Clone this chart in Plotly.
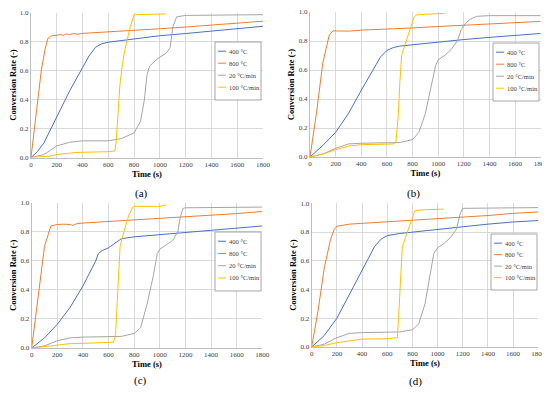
import plotly.graph_objects as go

# ---------------- data ----------------
series_names = ["400 °C", "800 °C", "20 °C/min", "100 °C/min"]
colors = ["#4472C4", "#ED7D31", "#A5A5A5", "#FFC000"]

# panel (a)
a_400_t = [0, 50, 100, 200, 300, 400, 450, 500, 550, 600, 800, 1000, 1200, 1400, 1600, 1800]
a_400_y = [0, 0.04, 0.1, 0.28, 0.46, 0.62, 0.7, 0.76, 0.785, 0.795, 0.82, 0.84, 0.855, 0.87, 0.885, 0.905]
a_800_t = [0, 40, 80, 110, 130, 160, 200, 230, 250, 270, 300, 330, 360, 400, 600, 800, 1000, 1200, 1400, 1600, 1800]
a_800_y = [0, 0.3, 0.6, 0.75, 0.82, 0.84, 0.842, 0.85, 0.84, 0.852, 0.848, 0.855, 0.85, 0.856, 0.865, 0.875, 0.888, 0.9, 0.915, 0.928, 0.94]
a_20_t = [0, 100, 200, 300, 400, 600, 700, 800, 850, 880, 900, 920, 980, 1050, 1080, 1100, 1130, 1200, 1800]
a_20_y = [0, 0.02, 0.08, 0.105, 0.115, 0.115, 0.13, 0.17, 0.25, 0.4, 0.57, 0.63, 0.68, 0.72, 0.76, 0.9, 0.97, 0.98, 0.985]
a_100_t = [0, 150, 200, 350, 600, 650, 660, 675, 690, 710, 730, 770, 800, 1050]
a_100_y = [0, 0.01, 0.02, 0.035, 0.04, 0.045, 0.1, 0.3, 0.5, 0.65, 0.75, 0.9, 0.985, 0.99]

# panel (b)
b_400_t = [0, 100, 200, 300, 400, 500, 550, 600, 650, 700, 800, 1000, 1200, 1400, 1600, 1800]
b_400_y = [0, 0.08, 0.17, 0.3, 0.46, 0.62, 0.69, 0.735, 0.755, 0.765, 0.775, 0.79, 0.81, 0.825, 0.84, 0.852]
b_800_t = [0, 50, 100, 150, 180, 200, 300, 400, 600, 800, 1000, 1200, 1400, 1600, 1800]
b_800_y = [0, 0.3, 0.65, 0.84, 0.87, 0.87, 0.868, 0.875, 0.88, 0.89, 0.9, 0.91, 0.915, 0.925, 0.935]
b_20_t = [0, 100, 200, 300, 400, 600, 700, 800, 850, 900, 950, 980, 1000, 1050, 1100, 1150, 1180, 1210, 1250, 1300, 1400, 1800]
b_20_y = [0, 0.02, 0.06, 0.09, 0.095, 0.097, 0.1, 0.12, 0.17, 0.3, 0.5, 0.63, 0.67, 0.7, 0.74, 0.8, 0.88, 0.92, 0.95, 0.97, 0.975, 0.975]
b_100_t = [0, 100, 200, 300, 400, 500, 600, 650, 670, 690, 700, 715, 740, 780, 810, 830, 900, 1050]
b_100_y = [0, 0.02, 0.05, 0.075, 0.085, 0.088, 0.09, 0.09, 0.1, 0.3, 0.5, 0.7, 0.77, 0.88, 0.96, 0.98, 0.985, 0.99]

# panel (c)
c_400_t = [0, 100, 200, 300, 400, 500, 520, 550, 600, 650, 700, 800, 1000, 1200, 1400, 1600, 1800]
c_400_y = [0, 0.07, 0.163, 0.28, 0.427, 0.6, 0.65, 0.67, 0.69, 0.72, 0.752, 0.765, 0.78, 0.795, 0.81, 0.825, 0.84]
c_800_t = [0, 50, 100, 150, 200, 250, 300, 320, 350, 400, 600, 800, 1000, 1200, 1400, 1600, 1800]
c_800_y = [0, 0.35, 0.7, 0.84, 0.85, 0.852, 0.85, 0.843, 0.855, 0.86, 0.87, 0.88, 0.89, 0.905, 0.915, 0.925, 0.94]
c_20_t = [0, 100, 200, 300, 400, 600, 700, 800, 850, 900, 950, 980, 1000, 1050, 1100, 1140, 1160, 1180, 1200, 1800]
c_20_y = [0, 0.015, 0.05, 0.07, 0.075, 0.076, 0.08, 0.1, 0.14, 0.3, 0.5, 0.65, 0.68, 0.71, 0.74, 0.8, 0.9, 0.96, 0.965, 0.97]
c_100_t = [0, 100, 200, 300, 400, 600, 640, 655, 670, 690, 720, 760, 790, 800, 1000, 1050]
c_100_y = [0, 0.01, 0.02, 0.03, 0.032, 0.035, 0.04, 0.1, 0.4, 0.7, 0.8, 0.92, 0.97, 0.975, 0.975, 0.985]

# panel (d)
d_400_t = [0, 100, 200, 300, 400, 500, 550, 600, 700, 800, 1000, 1200, 1400, 1600, 1800]
d_400_y = [0, 0.08, 0.2, 0.37, 0.54, 0.7, 0.75, 0.775, 0.79, 0.8, 0.82, 0.84, 0.855, 0.87, 0.88]
d_800_t = [0, 50, 100, 150, 180, 200, 300, 400, 600, 800, 1000, 1200, 1400, 1600, 1800]
d_800_y = [0, 0.25, 0.55, 0.75, 0.82, 0.84, 0.855, 0.86, 0.87, 0.88, 0.895, 0.905, 0.915, 0.93, 0.94]
d_20_t = [0, 100, 200, 300, 400, 600, 700, 800, 850, 900, 950, 970, 1000, 1050, 1100, 1150, 1180, 1200, 1800]
d_20_y = [0, 0.02, 0.065, 0.095, 0.1, 0.1, 0.105, 0.12, 0.16, 0.3, 0.55, 0.65, 0.69, 0.72, 0.76, 0.82, 0.93, 0.965, 0.97]
d_100_t = [0, 100, 200, 300, 400, 600, 650, 680, 690, 710, 720, 760, 800, 820, 900, 1050]
d_100_y = [0, 0.01, 0.03, 0.045, 0.055, 0.057, 0.06, 0.065, 0.2, 0.6, 0.7, 0.8, 0.9, 0.95, 0.955, 0.96]

panel_labels = ["(a)", "(b)", "(c)", "(d)"]
x_ticks = list(range(0, 1801, 200))
y_ticks = [0.0, 0.2, 0.4, 0.6, 0.8, 1.0]
x_title = "Time (s)"
y_title = "Conversion Rate (-)"

panels = [
    [(a_400_t, a_400_y), (a_800_t, a_800_y), (a_20_t, a_20_y), (a_100_t, a_100_y)],
    [(b_400_t, b_400_y), (b_800_t, b_800_y), (b_20_t, b_20_y), (b_100_t, b_100_y)],
    [(c_400_t, c_400_y), (c_800_t, c_800_y), (c_20_t, c_20_y), (c_100_t, c_100_y)],
    [(d_400_t, d_400_y), (d_800_t, d_800_y), (d_20_t, d_20_y), (d_100_t, d_100_y)],
]

# ---------------- layout geometry ----------------
# The page body has an 8 px margin, so the figure is drawn 8 px smaller and
# every target page position (in px) is shifted by that offset.
PAGE_W, PAGE_H, OFF = 550, 393, 8
W, H = PAGE_W - OFF, PAGE_H - OFF


def fx(px):
    return (px - OFF) / W


def fy(py):
    return 1 - (py - OFF) / H


boxes = [(31, 263, 12.5, 157.5), (310, 540.7, 12.0, 157), (31.7, 262.3, 202.7, 348), (311.7, 538.3, 203.3, 347)]
label_pos = [(141, 194), (413, 193), (140, 380), (415, 381)]
legend_boxes = [(215, 42, 261, 100), (493, 43, 539, 101), (215, 232, 261, 291), (491, 234, 537, 290)]

SERIF = "Liberation Serif"
fig = go.Figure()
shapes = []
annotations = []
layout = dict(
    width=W, height=H, margin=dict(l=0, r=0, t=0, b=0, autoexpand=False),
    paper_bgcolor="white", plot_bgcolor="white",
    font=dict(family=SERIF, size=7, color="#404040"),
    showlegend=False,
)

for i, series in enumerate(panels):
    n = "" if i == 0 else str(i + 1)
    for k, (t, y) in enumerate(series):
        fig.add_trace(go.Scatter(
            x=t, y=y, mode="lines", name=series_names[k],
            line=dict(color=colors[k], width=1),
            xaxis="x" + n, yaxis="y" + n,
        ))
    l, r, tp, bt = boxes[i]
    layout["xaxis" + n] = dict(
        domain=[fx(l), fx(r)], anchor="y" + n, range=[0, 1800],
        tickvals=x_ticks, ticktext=[str(v) for v in x_ticks],
        showgrid=True, gridcolor="#D9D9D9", gridwidth=1,
        showline=True, linecolor="#BFBFBF", linewidth=1,
        zeroline=False, ticks="", tickfont=dict(size=7, family=SERIF, color="#404040"),
        title=dict(text="<b>" + x_title + "</b>", font=dict(size=8.5, family=SERIF, color="#000000"), standoff=1),
    )
    layout["yaxis" + n] = dict(
        domain=[fy(bt), fy(tp)], anchor="x" + n, range=[0, 1.0],
        tickmode="array", tickvals=y_ticks, ticktext=["%.1f" % v for v in y_ticks],
        showgrid=True, gridcolor="#D9D9D9", gridwidth=1,
        showline=True, linecolor="#BFBFBF", linewidth=1,
        zeroline=False, ticks="", tickfont=dict(size=7, family=SERIF, color="#404040"),
        title=dict(text="<b>" + y_title + "</b>", font=dict(size=8.5, family=SERIF, color="#000000"), standoff=2),
    )
    # legend drawn as box + key lines + real text labels
    bl, btp, br, bb = legend_boxes[i]
    shapes.append(dict(type="rect", xref="paper", yref="paper",
                       x0=fx(bl), x1=fx(br), y0=fy(bb), y1=fy(btp),
                       line=dict(color="#A6A6A6", width=1), fillcolor="white", layer="above"))
    step = (bb - btp - 10) / 4.0
    for k in range(4):
        yy = btp + 8 + step * k + step * 0.1
        shapes.append(dict(type="line", xref="paper", yref="paper",
                           x0=fx(bl + 3), x1=fx(bl + 11), y0=fy(yy), y1=fy(yy),
                           line=dict(color=colors[k], width=1), layer="above"))
        annotations.append(dict(text=series_names[k], x=fx(bl + 11.5), y=fy(yy),
                                xref="paper", yref="paper", showarrow=False,
                                xanchor="left", yanchor="middle",
                                font=dict(size=6.5, family=SERIF, color="#404040")))
    px, py = label_pos[i]
    annotations.append(dict(
        text=panel_labels[i], x=fx(px), y=fy(py), xref="paper", yref="paper",
        showarrow=False, font=dict(size=11, family=SERIF, color="#000000"),
        xanchor="center", yanchor="middle",
    ))

layout["shapes"] = shapes
layout["annotations"] = annotations
fig.update_layout(**layout)
fig.write_html("out.html", config={"displayModeBar": False})
